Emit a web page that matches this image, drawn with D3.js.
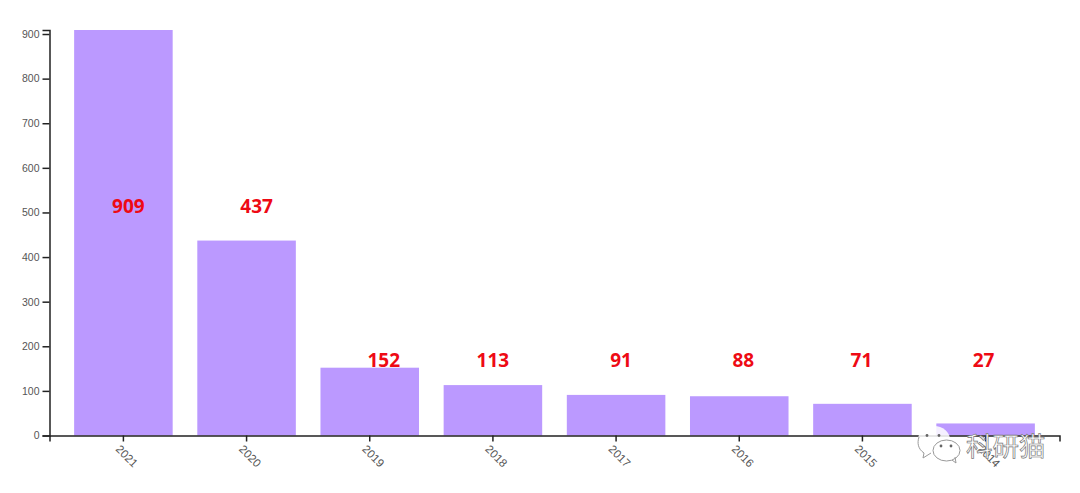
<!DOCTYPE html>
<meta charset="utf-8">
<style>
  html, body { margin: 0; background: #fff; overflow: hidden; }
  .tick text { font-family: "Liberation Sans", Arial, sans-serif; fill: #555; }
  .axis path, .tick line { stroke: #222; stroke-width: 1.5px; }
</style>
<div id="chart"></div>
<script src="https://d3js.org/d3.v7.min.js"></script>
<script>

var years = ["2021", "2020", "2019", "2018", "2017", "2016", "2015", "2014"]
var counts = [909, 437, 152, 113, 91, 88, 71, 27]
var yTicks = [0, 100, 200, 300, 400, 500, 600, 700, 800, 900]

var width = 1080,
    height = 493,
    left = 49.5,
    right = 1059.5,
    top_ = 30,
    bottom = 435.5

// the red numbers sit off-centre in the original, nudged by hand
var labelNudge = [5, 10, 14, 0, 5, 4, -1, -2]

var svg = d3.select("#chart")
  .append("svg")
    .attr("width", width)
    .attr("height", height)
    .style("display", "block")

var x = d3.scaleBand()
  .domain(years)
  .range([left, right])
  .padding(0.2)

var y = d3.scaleLinear()
  .domain([0, 909])
  .range([bottom, top_])

svg.selectAll("rect.bar")
  .data(counts)
  .enter()
  .append("rect")
    .attr("class", "bar")
    .attr("x", function(d, i) { return x(years[i]) })
    .attr("y", function(d) { return y(d) })
    .attr("width", x.bandwidth())
    .attr("height", function(d) { return bottom - y(d) })
    .attr("fill", "#bb99ff")

var xAxis = svg.append("g")
  .attr("class", "axis")
  .attr("transform", "translate(0," + bottom + ")")
  .call(d3.axisBottom(x).tickSize(6).tickSizeOuter(6))

xAxis.selectAll(".tick text")
  .attr("text-anchor", "start")
  .attr("dy", 0)
  .attr("font-size", 11.5)
  .attr("transform", "translate(-2,8) rotate(45)")

svg.append("g")
  .attr("class", "axis")
  .attr("transform", "translate(" + left + ",0)")
  .call(d3.axisLeft(y).tickValues(yTicks).tickSize(7).tickSizeOuter(7))
  .selectAll(".tick text")
    .attr("font-size", 10.5)

svg.selectAll("text.count")
  .data(counts)
  .enter()
  .append("text")
    .attr("class", "count")
    .attr("x", function(d, i) { return x(years[i]) + x.bandwidth() / 2 + labelNudge[i] })
    .attr("y", function(d) { return d > 400 ? 212.5 : 366.5 })
    .attr("text-anchor", "middle")
    .attr("font-family", "'Open Sans', sans-serif")
    .attr("font-weight", "bold")
    .attr("font-size", 19)
    .attr("fill", "#ee0a14")
    .text(function(d) { return d })

// watermark
var mark = svg.append("g")
  .attr("fill", "none")
  .attr("stroke", "#9a9a9a")
  .attr("stroke-width", 1)

mark.append("ellipse")
  .attr("cx", 934).attr("cy", 440).attr("rx", 16).attr("ry", 14)
  .attr("fill", "#fff").attr("fill-opacity", 0.85).attr("stroke", "none")
mark.append("path")
  .attr("d", "M924 453 C918 449 917 443 919 437 M924 453 L923 458 L931 453")
mark.append("ellipse")
  .attr("cx", 946.5).attr("cy", 450.5).attr("rx", 13.5).attr("ry", 10.5)
  .attr("fill", "#fff")
mark.append("path").attr("d", "M952 460 L956 463 L955 457")
mark.selectAll("circle")
  .data([927, 939, 941, 951])
  .enter()
  .append("circle")
    .attr("cx", function(d) { return d })
    .attr("cy", function(d) { return d < 940 ? 435.5 : 446 })
    .attr("r", 1.4)
    .attr("fill", "#666")
    .attr("stroke", "none")

svg.append("text")
  .attr("x", 966)
  .attr("y", 456)
  .attr("font-family", "'Noto Sans CJK SC', sans-serif")
  .attr("font-size", 26.5)
  .attr("fill", "#fff")
  .attr("stroke", "#777")
  .attr("stroke-width", 0.7)
  .text("科研猫")

</script>
